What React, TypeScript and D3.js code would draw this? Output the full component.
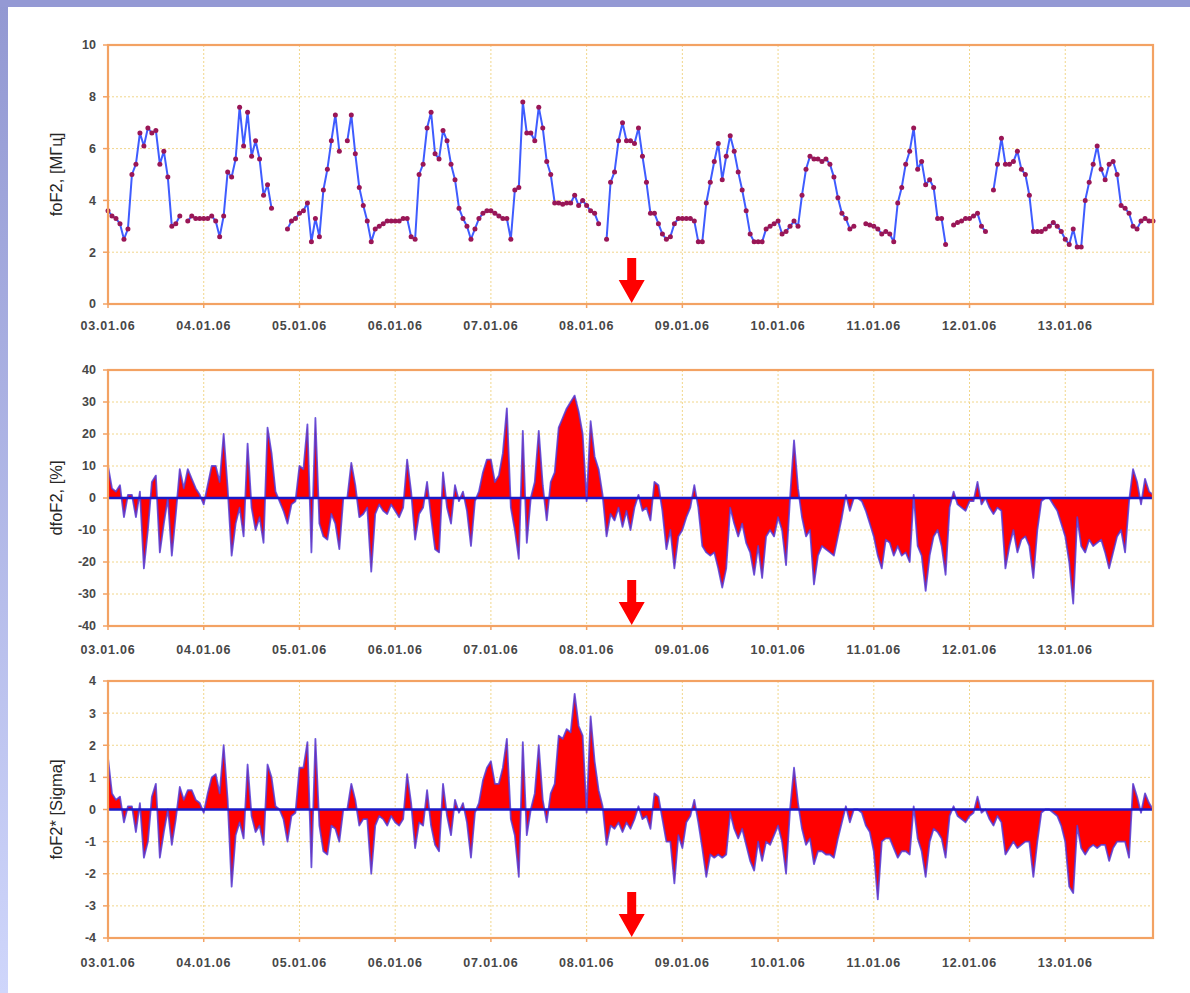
import React from "react";
import * as d3 from "d3";

// hourly values, 03.01.06 00:00 .. 13.01.06 22:00
const foF2: (number | null)[] = [
  // 03.01
  3.6, 3.4, 3.3, 3.1, 2.5, 2.9, 5.0, 5.4, 6.6, 6.1, 6.8, 6.6, 6.7, 5.4, 5.9, 4.9, 3.0, 3.1, 3.4, null, 3.2, 3.4, 3.3, 3.3,
  // 04.01
  3.3, 3.3, 3.4, 3.2, 2.6, 3.4, 5.1, 4.9, 5.6, 7.6, 6.1, 7.4, 5.7, 6.3, 5.6, 4.2, 4.6, 3.7, null, null, null, 2.9, 3.2, 3.3,
  // 05.01
  3.5, 3.6, 3.9, 2.4, 3.3, 2.6, 4.4, 5.2, 6.3, 7.3, 5.9, null, 6.3, 7.3, 5.8, 4.5, 3.8, 3.2, 2.4, 2.9, 3.0, 3.1, 3.2, 3.2,
  // 06.01
  3.2, 3.2, 3.3, 3.3, 2.6, 2.5, 5.0, 5.4, 6.8, 7.4, 5.8, 5.6, 6.7, 6.3, 5.4, 4.8, 3.7, 3.3, 3.0, 2.5, 2.9, 3.3, 3.5, 3.6,
  // 07.01
  3.6, 3.5, 3.4, 3.3, 3.3, 2.5, 4.4, 4.5, 7.8, 6.6, 6.6, 6.3, 7.6, 6.8, 5.5, 5.0, 3.9, 3.9, 3.85, 3.9, 3.9, 4.2, 3.8, 4.0,
  // 08.01
  3.8, 3.6, 3.5, 3.1, null, 2.5, 4.7, 5.1, 6.3, 7.0, 6.3, 6.3, 6.2, 6.8, 5.7, 4.7, 3.5, 3.5, 3.1, 2.7, 2.5, 2.6, 3.1, 3.3,
  // 09.01
  3.3, 3.3, 3.3, 3.2, 2.4, 2.4, 3.9, 4.7, 5.5, 6.2, 4.8, 5.7, 6.5, 5.9, 5.1, 4.4, 3.6, 2.7, 2.4, 2.4, 2.4, 2.9, 3.0, 3.1,
  // 10.01
  3.2, 2.7, 2.8, 3.0, 3.2, 3.0, 4.2, 5.2, 5.7, 5.6, 5.6, 5.5, 5.6, 5.4, 4.9, 4.1, 3.5, 3.3, 2.9, 3.0, null, null, 3.1, 3.05,
  // 11.01
  3.0, 2.9, 2.7, 2.8, 2.7, 2.4, 3.9, 4.5, 5.4, 5.9, 6.8, 5.2, 5.5, 4.6, 4.8, 4.5, 3.3, 3.3, 2.3, null, 3.05, 3.15, 3.2, 3.3,
  // 12.01
  3.3, 3.4, 3.5, 3.0, 2.8, null, 4.4, 5.4, 6.4, 5.4, 5.4, 5.5, 5.9, 5.2, 5.0, 4.2, 2.8, 2.8, 2.8, 2.9, 3.0, 3.15, 3.0, 2.8,
  // 13.01
  2.5, 2.3, 2.9, 2.2, 2.2, 4.0, 4.7, 5.4, 6.1, 5.2, 4.8, 5.4, 5.5, 5.0, 3.8, 3.7, 3.5, 3.0, 2.9, 3.2, 3.3, 3.2, 3.2,
];

const dfoF2: number[] = [
  10, 3, 2, 4, -6, 1, 1, -6, 2, -22, -10, 5, 7, -17, -8, 0, -18, -5, 9, 3, 9, 6, 3, 1,
  -2, 4, 10, 10, 5, 20, 3, -18, -8, -3, -12, 17, -3, -10, -6, -14, 22, 14, 2, -1, -4, -8, -2, -1,
  10, 9, 23, -17, 25, -8, -12, -13, -5, -8, -16, 0, 0, 11, 4, -6, -5, -3, -23, -5, -2, -4, -5, -2,
  -4, -6, -3, 12, 2, -13, -5, -3, 5, -6, -16, -17, 8, -3, -8, 4, -1, 2, -4, -15, -1, 2, 8, 12,
  12, 5, 7, 14, 28, -3, -10, -19, 21, -14, 0, 5, 21, 4, -7, 5, 8, 22, 25, 28, 30, 32, 27, 20,
  -1, 24, 13, 9, 1, -12, -5, -7, -3, -9, -4, -10, -3, 1, -4, -3, -7, 5, 4, -4, -16, -10, -22, -12,
  -10, -6, -3, 4, -3, -15, -17, -18, -17, -22, -28, -22, -3, -8, -12, -8, -14, -17, -24, -15, -25, -12, -10, -12,
  -6, -10, -21, 0, 18, 3, -6, -12, -10, -27, -18, -15, -16, -17, -18, -12, -6, 1, -4, 0, 0, -1, -4, -8,
  -12, -18, -22, -13, -14, -18, -15, -18, -17, -20, 1, -15, -18, -29, -18, -12, -10, -15, -24, -3, 2, -2, -3, -4,
  -1, -1, 5, -2, 0, -3, -5, -3, -4, -22, -15, -10, -17, -13, -12, -15, -25, -10, -1, 0, 0, -2, -4, -8,
  -12, -20, -33, -6, -15, -17, -13, -15, -14, -13, -17, -22, -17, -12, -10, -17, -1, 9, 5, -2, 6, 2, 1,
];

const sigma: number[] = [
  1.6, 0.5, 0.3, 0.4, -0.4, 0.1, 0.1, -0.7, 0.2, -1.5, -1.0, 0.4, 0.8, -1.5, -0.7, 0, -1.1, -0.3, 0.7, 0.3, 0.6, 0.6, 0.3, 0.2,
  -0.1, 0.5, 1.0, 1.1, 0.5, 2.0, 0.3, -2.4, -0.8, -0.4, -0.9, 1.4, -0.2, -0.7, -0.5, -1.1, 1.4, 1.0, 0.1, 0, -0.3, -1.0, -0.2, -0.1,
  1.3, 1.3, 2.1, -1.8, 2.2, -0.5, -1.3, -1.4, -0.5, -0.6, -1.0, 0, 0, 0.8, 0.3, -0.5, -0.3, -0.3, -2.0, -0.5, -0.2, -0.3, -0.5, -0.2,
  -0.4, -0.5, -0.3, 1.1, 0.2, -1.2, -0.4, -0.5, 0.6, -0.5, -1.1, -1.3, 0.8, -0.2, -0.8, 0.3, -0.1, 0.2, -0.4, -1.5, -0.1, 0.2, 0.9, 1.3,
  1.5, 0.8, 0.8, 1.3, 2.2, -0.3, -0.8, -2.1, 2.1, -0.8, 0, 0.5, 2.0, 0.3, -0.4, 0.5, 0.8, 2.3, 2.2, 2.5, 2.4, 3.6, 2.6, 2.3,
  -0.1, 2.9, 1.5, 0.6, 0.1, -1.1, -0.5, -0.6, -0.4, -0.7, -0.4, -0.6, -0.3, 0.1, -0.3, -0.2, -0.6, 0.5, 0.4, -0.3, -1.0, -1.0, -2.3, -0.8,
  -1.2, -0.4, -0.2, 0.3, -0.4, -1.2, -2.1, -1.4, -1.5, -1.4, -1.5, -1.4, -0.1, -0.6, -0.9, -0.6, -1.1, -1.6, -1.9, -1.0, -1.6, -1.0, -1.1, -0.8,
  -0.5, -1.0, -2.0, 0, 1.3, 0.2, -0.6, -1.1, -0.9, -1.7, -1.3, -1.3, -1.4, -1.4, -1.5, -0.9, -0.4, 0.1, -0.4, 0, 0, -0.1, -0.5, -0.7,
  -1.3, -2.8, -1.0, -0.9, -0.9, -1.2, -1.5, -1.3, -1.3, -1.4, 0.1, -0.9, -1.3, -2.1, -1.0, -0.6, -0.7, -0.9, -1.5, -0.2, 0.1, -0.2, -0.3, -0.4,
  -0.2, -0.1, 0.4, -0.1, 0, -0.3, -0.5, -0.2, -0.4, -1.4, -1.2, -1.0, -1.2, -1.1, -1.0, -1.0, -2.1, -1.0, -0.1, 0, 0, -0.1, -0.2, -0.5,
  -1.0, -2.4, -2.6, -0.5, -1.2, -1.4, -1.2, -1.1, -1.2, -1.1, -1.1, -1.6, -1.2, -1.0, -1.0, -1.0, -1.5, 0.8, 0.4, -0.1, 0.5, 0.2, 0,
];

const dayLabels = ["03.01.06", "04.01.06", "05.01.06", "06.01.06", "07.01.06", "08.01.06", "09.01.06", "10.01.06", "11.01.06", "12.01.06", "13.01.06"];
const ticks1 = [0, 2, 4, 6, 8, 10];
const ticks2 = [-40, -30, -20, -10, 0, 10, 20, 30, 40];
const ticks3 = [-4, -3, -2, -1, 0, 1, 2, 3, 4];

const t0 = Date.UTC(2006, 0, 3);
const HOUR = 3600e3;
const timeAt = (i: number) => new Date(t0 + i * HOUR);
const eventTime = new Date(t0 + (5 * 24 + 11.3) * HOUR); // стрелка

const LEFT = 108;
const RIGHT = 1153;
const FONT = "'Liberation Sans', Arial, sans-serif";
const FRAME = "#f3a263";
const GRID = "#f1d68a";
const TICK_TEXT = "#474747";

const x = d3
  .scaleUtc()
  .domain([new Date(t0), timeAt(262)])
  .range([LEFT, RIGHT]);

const dayTicks = dayLabels.map((_, i) => new Date(t0 + i * 24 * HOUR));

const Arrow = ({ bottom }: { bottom: number }) => {
  const cx = x(eventTime);
  const tip = bottom - 1;
  const p = [
    [cx - 4.5, tip - 45],
    [cx + 4.5, tip - 45],
    [cx + 4.5, tip - 23],
    [cx + 13, tip - 23],
    [cx, tip],
    [cx - 13, tip - 23],
    [cx - 4.5, tip - 23],
  ];
  return <polygon points={p.map((d) => d.join(",")).join(" ")} fill="#ff0000" />;
};

const Panel = ({
  top,
  bottom,
  domain,
  ticks,
  title,
  labelY,
  children,
}: {
  top: number;
  bottom: number;
  domain: [number, number];
  ticks: number[];
  title: string;
  labelY: number;
  children: (y: d3.ScaleLinear<number, number>) => React.ReactNode;
}) => {
  const y = d3.scaleLinear().domain(domain).range([bottom, top]);
  return (
    <g>
      {/* сетка */}
      {dayTicks.slice(1).map((d, i) => (
        <line key={"gx" + i} x1={x(d)} x2={x(d)} y1={top} y2={bottom} stroke={GRID} strokeDasharray="2,2" />
      ))}
      {ticks.slice(1, -1).map((t) => (
        <line key={"gy" + t} x1={LEFT} x2={RIGHT} y1={y(t)} y2={y(t)} stroke={GRID} strokeDasharray="2,2" />
      ))}
      {children(y)}
      <rect x={LEFT} y={top} width={RIGHT - LEFT} height={bottom - top} fill="none" stroke={FRAME} strokeWidth={2.2} />
      {ticks.map((t) => (
        <g key={"ty" + t}>
          <line x1={LEFT - 5} x2={LEFT} y1={y(t)} y2={y(t)} stroke={FRAME} strokeWidth={1.5} />
          <text x={96} y={y(t)} dy="0.35em" textAnchor="end" fontSize={12.5} fontWeight="bold" fill={TICK_TEXT}>
            {t}
          </text>
        </g>
      ))}
      {dayTicks.map((d, i) => (
        <g key={"tx" + i}>
          <line x1={x(d)} x2={x(d)} y1={bottom} y2={bottom + 4} stroke={FRAME} strokeWidth={1.5} />
          <text
            x={x(d)}
            y={labelY}
            dy="0.35em"
            textAnchor="middle"
            fontSize={12.5}
            fontWeight="bold"
            letterSpacing={0.8}
            fill={TICK_TEXT}
          >
            {dayLabels[i]}
          </text>
        </g>
      ))}
      <text
        transform={`translate(62,${(top + bottom) / 2}) rotate(-90)`}
        textAnchor="middle"
        fontSize={16.5}
        fill="#262626"
      >
        {title}
      </text>
      <Arrow bottom={bottom} />
    </g>
  );
};

const AreaSeries = ({ values, y }: { values: number[]; y: d3.ScaleLinear<number, number> }) => {
  const area = d3
    .area<number>()
    .x((_, i) => x(timeAt(i)))
    .y0(y(0))
    .y1((d) => y(d));
  const line = d3
    .line<number>()
    .x((_, i) => x(timeAt(i)))
    .y((d) => y(d));
  return (
    <g>
      <path d={area(values) || ""} fill="#ff0000" />
      <path d={line(values) || ""} fill="none" stroke="#5238d6" strokeWidth={1.8} strokeOpacity={0.85} strokeLinejoin="round" />
      <line x1={LEFT} x2={RIGHT} y1={y(0)} y2={y(0)} stroke="#1a1ac8" strokeWidth={2.6} />
    </g>
  );
};

export default function App() {
  const line = d3
    .line<number | null>()
    .defined((d) => d !== null)
    .x((_, i) => x(timeAt(i)))
    .y(() => 0);

  return (
    <div style={{ position: "absolute", left: 0, top: 0 }}>
      <svg width={1190} height={993} style={{ display: "block", fontFamily: FONT }}>
        <defs>
          <linearGradient id="side" x1="0" y1="0" x2="0" y2="1">
            <stop offset="0" stopColor="#9298d2" />
            <stop offset="1" stopColor="#cfd6fb" />
          </linearGradient>
        </defs>
        <rect width={1190} height={993} fill="#fff" />
        <rect x={0} y={0} width={8} height={993} fill="url(#side)" />
        <rect x={0} y={0} width={1190} height={7} fill="#9499d4" />

        <Panel top={45} bottom={304} domain={[0, 10]} ticks={ticks1} title="foF2, [МГц]" labelY={326}>
          {(y) => {
            const l = line.y((d) => y(d as number));
            return (
              <g>
                <path d={l(foF2) || ""} fill="none" stroke="#3f5cff" strokeWidth={2} strokeLinejoin="round" />
                {foF2.map((v, i) =>
                  v === null ? null : <circle key={i} cx={x(timeAt(i))} cy={y(v)} r={2.5} fill="#9a1656" />
                )}
              </g>
            );
          }}
        </Panel>

        <Panel top={370} bottom={626} domain={[-40, 40]} ticks={ticks2} title="dfoF2, [%]" labelY={650}>
          {(y) => <AreaSeries values={dfoF2} y={y} />}
        </Panel>

        <Panel top={681} bottom={938} domain={[-4, 4]} ticks={ticks3} title="foF2* [Sigma]" labelY={963}>
          {(y) => <AreaSeries values={sigma} y={y} />}
        </Panel>
      </svg>
    </div>
  );
}
